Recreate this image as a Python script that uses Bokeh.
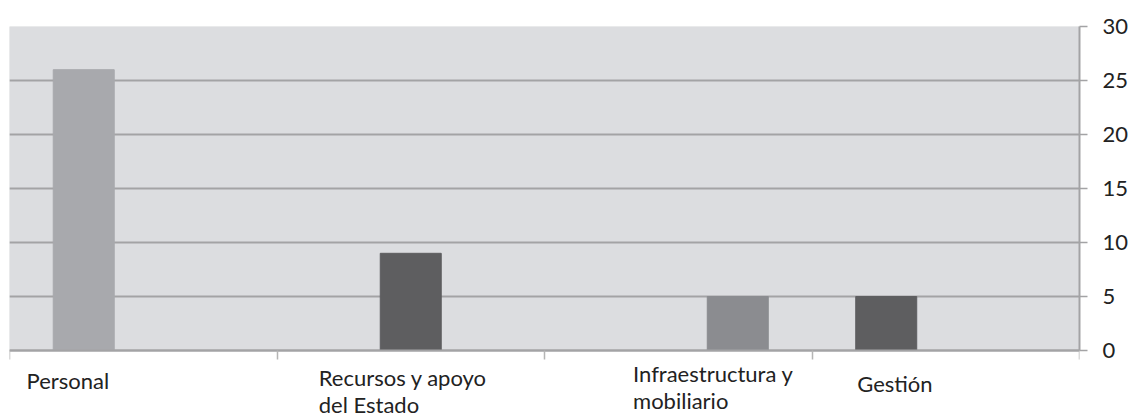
from bokeh.plotting import figure
from bokeh.models import Range1d, FixedTicker, ColumnDataSource, LinearAxis
from bokeh.core.properties import value
from bokeh.embed import file_html
from bokeh.resources import INLINE

# ---- data ----
categories = ["Personal", "Recursos y apoyo\ndel Estado", "Infraestructura y\nmobiliario", "Gestión"]
values = [26, 9, 5, 5]
series_slot = [0, 1, 2, 0]          # position of the bar inside its category cluster
bar_colors = ["#a8a9ad", "#5e5e60", "#8b8c90", "#5e5e60"]
y_ticks = [0, 5, 10, 15, 20, 25, 30]

# ---- layout helpers ----
n_series = 3
slot_w = 0.2225
bar_w = 0.228
label_x_off = [0.064, 0.156, 0.331, 0.169]   # left edge of label inside category
label_base_px = [29.5, 27.2, 22.9, 32.9]     # first line position below axis (px)
line_gap_px = 26.7

FONT = "Lato"
TXT = "#222222"
GRID = "#a3a3a5"
PLOT_H = 324          # px for the value area
STRIP_H = 65          # px for the category label strip below it
y_max = max(y_ticks)
px_per_unit = PLOT_H / y_max
n_cat = len(categories)

p = figure(output_backend="svg", toolbar_location=None,
           x_range=Range1d(0, n_cat), y_range=Range1d(-STRIP_H / px_per_unit, y_max),
           x_axis_location=None, y_axis_location="right",
           min_border_left=9, min_border_top=26, min_border_bottom=0, min_border_right=51,
           frame_width=1070, frame_height=PLOT_H + STRIP_H)
p.background_fill_color = "white"
p.border_fill_color = "white"
p.outline_line_color = None

# plot-area background
p.quad(left=[0], right=[n_cat], bottom=[0], top=[y_max], color="#dcdde0", level="image")

xs = [i + 0.5 + (s - (n_series - 1) / 2) * slot_w for i, s in enumerate(series_slot)]
src = ColumnDataSource(dict(x=xs, top=values, color=bar_colors))
p.vbar(x="x", top="top", width=bar_w, bottom=0, color="color", source=src)

# grid
for g in p.xgrid:
    g.visible = False
p.ygrid.ticker = FixedTicker(ticks=y_ticks)
p.ygrid.bounds = (0, y_max)
p.ygrid.grid_line_color = GRID
p.ygrid.grid_line_width = 2

# right axis
ya = p.yaxis[0]
ya.ticker = FixedTicker(ticks=y_ticks)
ya.bounds = (0, y_max)
ya.axis_line_color = GRID
ya.axis_line_width = 2
ya.major_tick_line_color = GRID
ya.major_tick_line_width = 1.5
ya.major_tick_out = 8
ya.major_tick_in = 0
ya.minor_tick_line_color = None
ya.major_label_standoff = 15
ya.major_label_text_font = FONT
ya.major_label_text_font_size = "22px"
ya.major_label_text_color = TXT

# category axis line at y=0 with ticks on category boundaries
xa = LinearAxis(fixed_location=0, ticker=FixedTicker(ticks=list(range(n_cat + 1))))
xa.axis_line_color = GRID
xa.axis_line_width = 2
xa.major_tick_line_color = "#b5b5b5"
xa.major_tick_line_width = 1.5
xa.major_tick_out = 0
xa.major_tick_in = 9
xa.minor_tick_line_color = None
xa.major_label_standoff = 0
xa.major_label_text_font_size = "0px"
xa.major_label_text_color = None
p.add_layout(xa, "above")

# category labels
lx, ly, lt = [], [], []
for i, cat in enumerate(categories):
    for j, line in enumerate(cat.split("\n")):
        lx.append(i + label_x_off[i])
        ly.append(-(label_base_px[i] + j * line_gap_px) / px_per_unit)
        lt.append(line)
p.text(x=lx, y=ly, text=lt, text_font=value(FONT), text_font_size="22px",
       text_color=TXT, text_align="left", text_baseline="alphabetic")

open("out.html", "w").write(file_html(p, INLINE))
